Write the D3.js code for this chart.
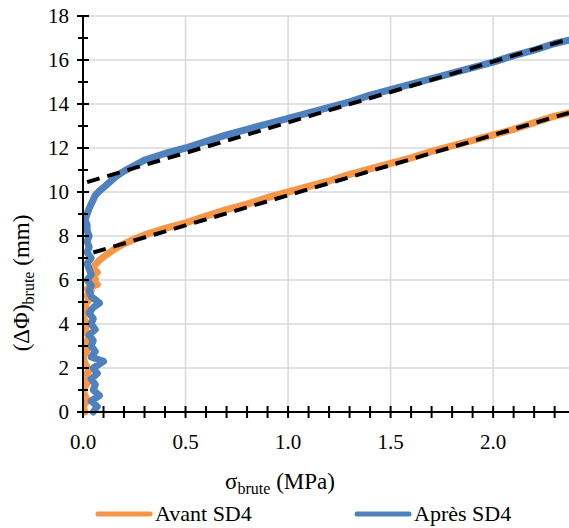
<!DOCTYPE html>
<html><head><meta charset="utf-8">
<script src="https://cdn.jsdelivr.net/npm/d3@7"></script>
</head><body style="margin:0"><svg id="c" width="569" height="528" font-family="serif"></svg>
<script>
const FONT="serif";
const xTicks=[0,0.5,1.0,1.5,2.0];
const yTicks=[0,2,4,6,8,10,12,14,16,18];
const seriesNames=["Avant SD4","Après SD4"];
const seriesColors=["#F79646","#4F81BD"];
const avantSigma=[0.01,0.00,0.02,0.01,0.00,0.02,0.01,0.03,0.01,0.00,0.02,0.01,0.03,0.01,0.02,0.00,0.02,0.01,0.03,0.02,0.04,0.02,0.04,0.07,0.03,0.06,0.04,0.07,0.05,0.06,0.08,0.1,0.13,0.16,0.2,0.25,0.3,0.4,0.5,0.6,0.7,0.8,0.9,1.0,1.1,1.2,1.3,1.4,1.5,1.6,1.7,1.8,1.9,2.0,2.1,2.2,2.3,2.37];
const avantPhi=[0,0.25,0.5,0.75,1.0,1.3,1.6,1.9,2.2,2.5,2.8,3.1,3.4,3.7,4.0,4.3,4.6,4.9,5.1,5.3,5.5,5.6,5.7,5.8,5.9,6.05,6.2,6.35,6.5,6.7,6.9,7.05,7.25,7.45,7.65,7.85,8.05,8.35,8.6,8.9,9.2,9.45,9.75,10.0,10.25,10.5,10.8,11.05,11.3,11.55,11.85,12.1,12.35,12.6,12.85,13.15,13.45,13.6];
const apresSigma=[0.05,0.07,0.04,0.08,0.05,0.06,0.04,0.07,0.05,0.1,0.04,0.06,0.04,0.05,0.03,0.06,0.04,0.05,0.03,0.05,0.08,0.04,0.03,0.04,0.02,0.04,0.03,0.02,0.04,0.02,0.03,0.02,0.03,0.02,0.02,0.01,0.02,0.03,0.04,0.05,0.06,0.08,0.1,0.13,0.16,0.2,0.25,0.3,0.4,0.5,0.6,0.7,0.8,0.9,1.0,1.1,1.2,1.3,1.4,1.5,1.6,1.7,1.8,1.9,2.0,2.1,2.2,2.3,2.37];
const apresPhi=[0,0.25,0.5,0.75,1.0,1.25,1.5,1.75,2.0,2.3,2.5,2.75,3.0,3.25,3.5,3.75,4.0,4.25,4.5,4.75,4.95,5.25,5.5,5.75,6.0,6.25,6.5,6.75,7.0,7.25,7.5,7.75,8.0,8.25,8.5,8.75,9.0,9.25,9.45,9.65,9.85,10.05,10.2,10.45,10.7,10.95,11.2,11.45,11.75,12.0,12.3,12.6,12.85,13.1,13.35,13.6,13.85,14.1,14.4,14.65,14.9,15.15,15.4,15.65,15.9,16.2,16.45,16.75,16.9];
const fitAvantSigma=[0.05,2.37];
const fitAvantPhi=[7.25,13.6];
const fitApresSigma=[0.02,2.37];
const fitApresPhi=[10.45,16.95];

const svg=d3.select("#c");
const L=83,R=569,T=16,B=412;
const x=d3.scaleLinear().domain([0,2.37]).range([L,R]);
const y=d3.scaleLinear().domain([0,18]).range([B,T]);

svg.append("rect").attr("width",569).attr("height",528).attr("fill","#fff");
svg.append("g").selectAll("line").data(yTicks.filter(d=>d>0)).join("line")
 .attr("x1",L).attr("x2",R).attr("y1",d=>y(d)).attr("y2",d=>y(d)).attr("stroke","#d9d9d9").attr("stroke-width",1.5);
svg.append("g").selectAll("line").data(xTicks.filter(d=>d>0)).join("line")
 .attr("x1",d=>x(d)).attr("x2",d=>x(d)).attr("y1",T).attr("y2",B).attr("stroke","#d9d9d9").attr("stroke-width",1.5);

svg.append("clipPath").attr("id","pc").append("rect").attr("x",L).attr("y",T-5).attr("width",R-L).attr("height",B-T+10);
const line=d3.line().x(d=>x(d[0])).y(d=>y(d[1]));
const plot=svg.append("g").attr("clip-path","url(#pc)");
const av=avantSigma.map((s,i)=>[s,avantPhi[i]]);
const ap=apresSigma.map((s,i)=>[s,apresPhi[i]]);
plot.append("path").datum(av).attr("d",line).attr("fill","none").attr("stroke",seriesColors[0]).attr("stroke-width",7).attr("stroke-linejoin","round").attr("stroke-linecap","round");
plot.append("path").datum(ap).attr("d",line).attr("fill","none").attr("stroke",seriesColors[1]).attr("stroke-width",7).attr("stroke-linejoin","round").attr("stroke-linecap","round");
[[fitAvantSigma,fitAvantPhi],[fitApresSigma,fitApresPhi]].forEach(([s,p])=>{
 plot.append("path").datum(s.map((v,i)=>[v,p[i]])).attr("d",line).attr("fill","none").attr("stroke","#000").attr("stroke-width",4).attr("stroke-dasharray","13,8");
});

svg.append("line").attr("x1",L).attr("x2",L).attr("y1",T).attr("y2",B).attr("stroke","#000").attr("stroke-width",2);
svg.append("g").selectAll("line").data(d3.range(0,19,1)).join("line")
 .attr("x1",d=>d%2===0?L-6:L-5).attr("x2",d=>d%2===0?L+6:L+5).attr("y1",d=>y(d)).attr("y2",d=>y(d)).attr("stroke","#000").attr("stroke-width",2);
svg.append("line").attr("x1",L).attr("x2",R).attr("y1",B).attr("y2",B).attr("stroke","#000").attr("stroke-width",2);
svg.append("g").selectAll("line").data(d3.range(0,24).map(i=>i/10)).join("line")
 .attr("x1",d=>x(d)).attr("x2",d=>x(d)).attr("y1",B-6).attr("y2",B+6).attr("stroke","#000").attr("stroke-width",2);

svg.selectAll("text.yl").data(yTicks).join("text").attr("class","yl")
 .attr("x",L-14).attr("y",d=>y(d)+7).attr("text-anchor","end").attr("font-size",21).attr("font-family",FONT).text(d=>d3.format("d")(d));
svg.selectAll("text.xl").data(xTicks).join("text").attr("class","xl")
 .attr("x",d=>x(d)).attr("y",B+37).attr("text-anchor","middle").attr("font-size",21).attr("font-family",FONT).text(d=>d3.format(".1f")(d));

const xt=svg.append("text").attr("x",280).attr("y",489).attr("text-anchor","middle").attr("font-family",FONT).attr("font-size",23);
xt.append("tspan").text("σ");
xt.append("tspan").text("brute").attr("font-size",16).attr("dy",5);
xt.append("tspan").text(" (MPa)").attr("dy",-5);
const yt=svg.append("text").attr("transform","translate(29,283) rotate(-90)").attr("text-anchor","middle").attr("font-family",FONT).attr("font-size",23);
yt.append("tspan").text("(ΔΦ)");
yt.append("tspan").text("brute").attr("font-size",16).attr("dy",5);
yt.append("tspan").text(" (mm)").attr("dy",-5);

const lg=[{x:98,t:seriesNames[0],c:seriesColors[0]},{x:357,t:seriesNames[1],c:seriesColors[1]}];
lg.forEach(d=>{
 svg.append("line").attr("x1",d.x).attr("x2",d.x+52).attr("y1",514).attr("y2",514).attr("stroke",d.c).attr("stroke-width",5).attr("stroke-linecap","round");
 svg.append("text").attr("x",d.x+57).attr("y",521).attr("font-family",FONT).attr("font-size",22).text(d.t);
});
</script></body></html>
